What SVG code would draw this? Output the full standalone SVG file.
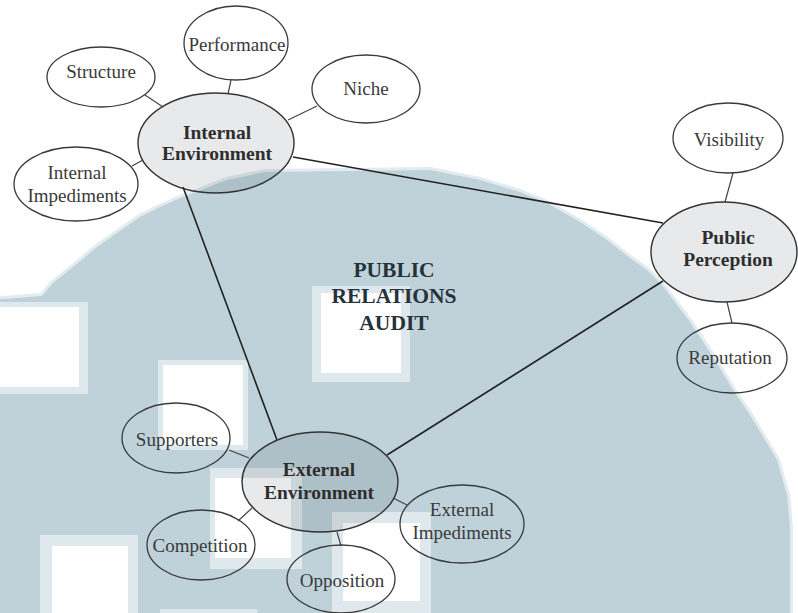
<svg xmlns="http://www.w3.org/2000/svg" width="798" height="613" viewBox="0 0 798 613">
<style>
.bg{fill:#ffffff}
.wm{fill:#bfd2d9}
.wmh{fill:#e2ecef;stroke:#e2ecef;stroke-width:6;stroke-linejoin:round}
.halo{fill:#dfe9ed}
.hole{fill:#ffffff}
.sub{fill:none;stroke:#3a3a3a;stroke-width:1.3}
.main{fill:#1e2a30;fill-opacity:0.1;stroke:#333;stroke-width:1.4}
text{font-family:'Liberation Serif','Tinos','Times New Roman','DejaVu Serif',serif;text-anchor:middle}
.t{font-size:19px;fill:#3a3a3a}
.b{font-size:19.5px;font-weight:bold;fill:#2e2e2e}
.c{font-size:21.5px;font-weight:bold;fill:#25323a}
.ln{stroke:#222;stroke-width:1.6;fill:none}
.sl{stroke:#444;stroke-width:1.2;fill:none}
</style>
<rect class="bg" x="0" y="0" width="798" height="613"/>
<g id="watermark">
  <path class="wmh" d="M-10,625 L-10,300 L42,296 L53,283 L73,267 L97,247 L117,233 L140,217 L160,207 L180,198 L227,180 L265,172 L430,170 L480,180 L520,192 L547,203 L580,222 L607,240 L630,258 L647,270 L662,285 L672,298 L690,322 L715,360 L735,393 L750,415 L765,440 L777,460 L787,495 L790,527 L790,625 Z"/>
  <path class="wm" d="M-10,625 L-10,300 L42,296 L53,283 L73,267 L97,247 L117,233 L140,217 L160,207 L180,198 L227,180 L265,172 L430,170 L480,180 L520,192 L547,203 L580,222 L607,240 L630,258 L647,270 L662,285 L672,298 L690,322 L715,360 L735,393 L750,415 L765,440 L777,460 L787,495 L790,527 L790,625 Z"/>
  <rect class="halo" x="312" y="286" width="98" height="96"/>
  <rect class="hole" x="321" y="293" width="80" height="80"/>
  <rect class="halo" x="0" y="302" width="88" height="92"/>
  <rect class="hole" x="0" y="307" width="79" height="80"/>
  <rect class="halo" x="158" y="360" width="90" height="90"/>
  <rect class="hole" x="163" y="365" width="80" height="80"/>
  <rect class="halo" x="210" y="468" width="92" height="101"/>
  <rect class="hole" x="215" y="478" width="76" height="80"/>
  <rect class="halo" x="40" y="535" width="98" height="78"/>
  <rect class="hole" x="52" y="546" width="76" height="67"/>
  <rect class="halo" x="160" y="609" width="97" height="4"/>
  <rect class="halo" x="332" y="512" width="99" height="101"/>
  <rect class="hole" x="343" y="523" width="77" height="78"/>
</g>
<g id="connectors">
  <line class="sl" x1="145" y1="95" x2="163" y2="107"/>
  <line class="sl" x1="231" y1="80" x2="228" y2="94"/>
  <line class="sl" x1="317" y1="106" x2="288" y2="120"/>
  <line class="sl" x1="132" y1="166" x2="143" y2="160"/>
  <line class="ln" x1="293" y1="157" x2="663" y2="223"/>
  <line class="ln" x1="183" y1="187" x2="277" y2="440"/>
  <line class="ln" x1="387" y1="455" x2="663" y2="281"/>
  <line class="sl" x1="733" y1="173" x2="725" y2="202"/>
  <line class="sl" x1="727" y1="302" x2="732" y2="323"/>
  <line class="sl" x1="229" y1="450" x2="249" y2="458"/>
  <line class="sl" x1="238" y1="521" x2="252" y2="508"/>
  <line class="sl" x1="337" y1="532" x2="341" y2="546"/>
  <line class="sl" x1="393" y1="498" x2="407" y2="505"/>
</g>
<g id="internal-environment">
  <ellipse class="main" cx="216" cy="143" rx="78" ry="50"/>
  <text class="b" x="217" y="139" font-family="Liberation Serif, serif">Internal</text>
  <text class="b" x="217" y="160" font-family="Liberation Serif, serif">Environment</text>
</g>
<g id="structure">
  <ellipse class="sub" cx="101" cy="77" rx="54" ry="30"/>
  <text class="t" x="101" y="78" font-family="Liberation Serif, serif">Structure</text>
</g>
<g id="performance">
  <ellipse class="sub" cx="236" cy="43" rx="52" ry="37"/>
  <text class="t" x="237" y="51" font-family="Liberation Serif, serif">Performance</text>
</g>
<g id="niche">
  <ellipse class="sub" cx="366" cy="89" rx="54" ry="34"/>
  <text class="t" x="366" y="95" font-family="Liberation Serif, serif">Niche</text>
</g>
<g id="internal-impediments">
  <ellipse class="sub" cx="76" cy="184" rx="62" ry="37"/>
  <text class="t" x="77" y="179" font-family="Liberation Serif, serif">Internal</text>
  <text class="t" x="77" y="202" font-family="Liberation Serif, serif">Impediments</text>
</g>
<g id="visibility">
  <ellipse class="sub" cx="728" cy="138" rx="55" ry="35"/>
  <text class="t" x="729" y="146" font-family="Liberation Serif, serif">Visibility</text>
</g>
<g id="public-perception">
  <ellipse class="main" cx="724" cy="252" rx="73" ry="50"/>
  <text class="b" x="728" y="244" font-family="Liberation Serif, serif">Public</text>
  <text class="b" x="728" y="266" font-family="Liberation Serif, serif">Perception</text>
</g>
<g id="reputation">
  <ellipse class="sub" cx="732" cy="358" rx="55" ry="35"/>
  <text class="t" x="730" y="364" font-family="Liberation Serif, serif">Reputation</text>
</g>
<g id="audit">
  <text class="c" x="394" y="277" font-family="Liberation Serif, serif">PUBLIC</text>
  <text class="c" x="394" y="303" font-family="Liberation Serif, serif">RELATIONS</text>
  <text class="c" x="394" y="330" font-family="Liberation Serif, serif">AUDIT</text>
</g>
<g id="external-environment">
  <ellipse class="main" cx="320" cy="482" rx="78" ry="50"/>
  <text class="b" x="319" y="476" font-family="Liberation Serif, serif">External</text>
  <text class="b" x="319" y="499" font-family="Liberation Serif, serif">Environment</text>
</g>
<g id="supporters">
  <ellipse class="sub" cx="176" cy="438" rx="54" ry="35"/>
  <text class="t" x="177" y="446" font-family="Liberation Serif, serif">Supporters</text>
</g>
<g id="competition">
  <ellipse class="sub" cx="201" cy="545" rx="54" ry="35"/>
  <text class="t" x="200" y="552" font-family="Liberation Serif, serif">Competition</text>
</g>
<g id="opposition">
  <ellipse class="sub" cx="341" cy="579" rx="54" ry="34"/>
  <text class="t" x="342" y="587" font-family="Liberation Serif, serif">Opposition</text>
</g>
<g id="external-impediments">
  <ellipse class="sub" cx="462" cy="524" rx="62" ry="39"/>
  <text class="t" x="462" y="516" font-family="Liberation Serif, serif">External</text>
  <text class="t" x="462" y="539" font-family="Liberation Serif, serif">Impediments</text>
</g>
</svg>
